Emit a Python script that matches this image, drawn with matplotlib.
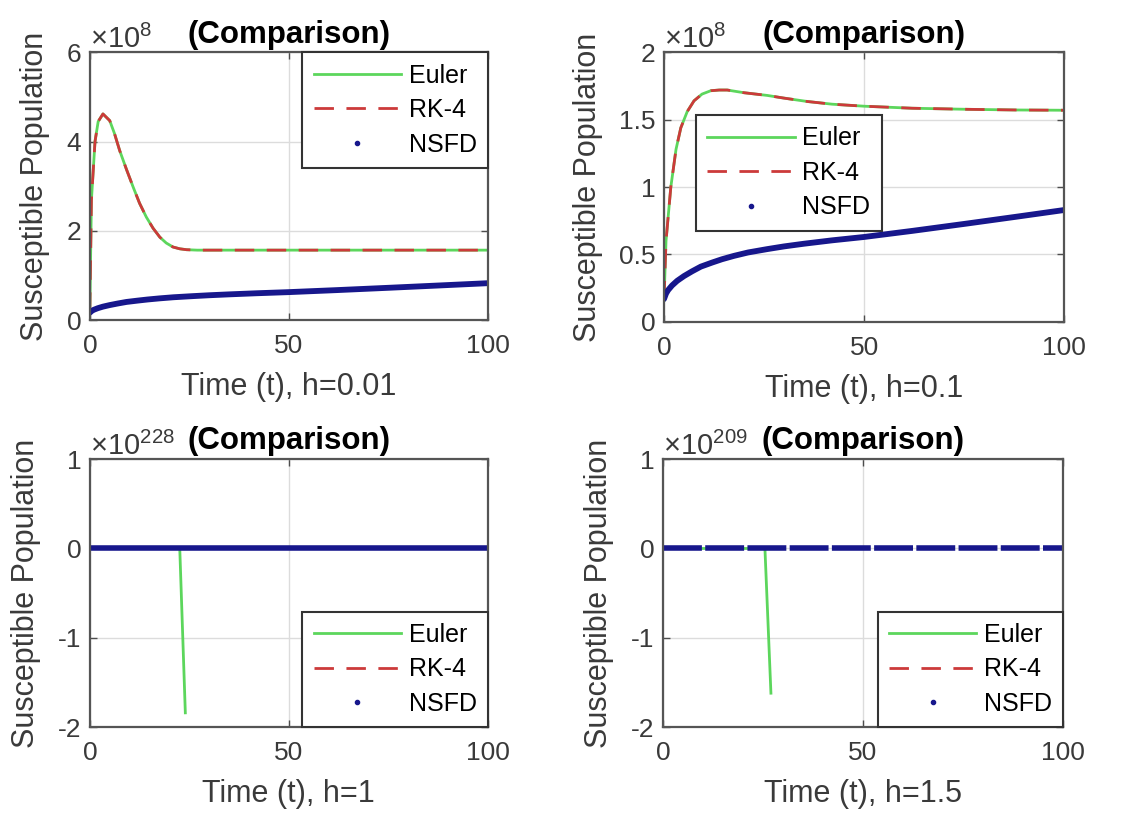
import matplotlib
matplotlib.use('Agg')
import matplotlib.pyplot as plt
from matplotlib import ticker
from matplotlib.lines import Line2D

plt.rcParams['font.family'] = ['Liberation Sans', 'DejaVu Sans']
plt.rcParams['axes.unicode_minus'] = False
plt.rcParams['mathtext.fontset'] = 'custom'
plt.rcParams['mathtext.rm'] = 'Liberation Sans'

# h = 0.01 (Euler and RK-4 overlap)
t_h001 = [0, 0.4, 1.3, 2.1, 3.3, 5, 6.2, 7.5, 9.2, 10.9, 12.5, 14.2, 15.9, 17.6,
          19.2, 20.9, 22.6, 24.3, 27, 30, 50, 75, 100]
s_h001 = [0.19e8, 2.69e8, 4.0e8, 4.45e8, 4.62e8, 4.47e8, 4.18e8, 3.80e8, 3.38e8,
          2.98e8, 2.62e8, 2.31e8, 2.06e8, 1.86e8, 1.73e8, 1.64e8, 1.60e8, 1.58e8,
          1.57e8, 1.57e8, 1.57e8, 1.57e8, 1.57e8]

# h = 0.1 (Euler and RK-4 overlap)
t_h01 = [0, 0.5, 1.7, 3, 4.2, 5.8, 7.5, 9.5, 11.7, 13.8, 15.8, 20, 25.8, 30, 35.8,
         42, 50, 62, 75.8, 88, 100]
s_h01 = [0.16e8, 0.60e8, 1.0e8, 1.28e8, 1.44e8, 1.56e8, 1.64e8, 1.69e8, 1.715e8,
         1.72e8, 1.72e8, 1.70e8, 1.68e8, 1.66e8, 1.635e8, 1.615e8, 1.60e8, 1.585e8,
         1.577e8, 1.572e8, 1.57e8]

# NSFD
t_nsfd = [0, 0.5, 1, 2, 3.3, 5, 7, 9.2, 12, 14.5, 17.5, 21, 25.8, 30, 35, 42,
          50, 62, 75.8, 88, 100]
s_nsfd = [0.17e8, 0.21e8, 0.235e8, 0.27e8, 0.305e8, 0.34e8, 0.375e8, 0.41e8,
          0.44e8, 0.465e8, 0.49e8, 0.515e8, 0.54e8, 0.56e8, 0.58e8, 0.605e8,
          0.63e8, 0.675e8, 0.73e8, 0.78e8, 0.83e8]

# Euler blow-up for h = 1 and h = 1.5
t_euler_h1 = [0, 22.6, 24]
s_euler_h1 = [0.2e8, 1.6e8, -1.84e228]
t_euler_h15 = [0, 25.5, 27]
s_euler_h15 = [0.2e8, 1.6e8, -1.62e209]

euler_c = '#5cd65c'
rk4_c = '#cc3a3a'
nsfd_c = '#17178c'
gray = '#4d4d4d'
dash = (0, (7, 4.5))


class MatlabFmt(ticker.ScalarFormatter):
    def _set_format(self):
        self.format = '%g'


def style(ax, xlabel, ylim, yticks):
    ax.set_xlim(0, 100)
    ax.set_ylim(*ylim)
    ax.set_xticks([0, 50, 100])
    ax.set_yticks(yticks)
    fmt = MatlabFmt(useMathText=True)
    ax.yaxis.set_major_formatter(fmt)
    ax.xaxis.set_major_formatter(ticker.FormatStrFormatter('%g'))
    ax.yaxis.get_offset_text().set_fontsize(21)
    ax.yaxis.get_offset_text().set_color('#666666')
    ax.tick_params(direction='in', length=5, width=1, colors=gray,
                   labelcolor='#3a3a3a', labelsize=19, top=True, right=True)
    ax.tick_params(axis='x', pad=10)
    ax.tick_params(axis='y', pad=6)
    for sp in ax.spines.values():
        sp.set_color('#555555')
        sp.set_linewidth(1.6)
    ax.grid(True, color='#dcdcdc', linewidth=1)
    ax.set_axisbelow(True)
    ax.set_title('(Comparison)', fontsize=22.5, fontweight='bold', pad=7)
    ax.set_xlabel(xlabel, fontsize=22, color='#3a3a3a', labelpad=10)
    ax.set_ylabel('Susceptible Population', fontsize=22, color='#3a3a3a', labelpad=12)


handles = [Line2D([], [], color=euler_c, lw=2),
           Line2D([], [], color=rk4_c, lw=2, linestyle=dash),
           Line2D([], [], color=nsfd_c, linestyle='none', marker='.', markersize=6)]
labels = ['Euler', 'RK-4', 'NSFD']


def add_legend(ax, **kw):
    leg = ax.legend(handles, labels, fontsize=18, handlelength=3.5, labelspacing=0.42,
                    fancybox=False, framealpha=1, edgecolor='#333333',
                    borderaxespad=0, handletextpad=0.3, borderpad=0.45, **kw)
    leg.get_frame().set_linewidth(1.5)


fig = plt.figure(figsize=(11.37, 8.17), dpi=100)

ax1 = fig.add_axes([0.079, 0.608, 0.350, 0.328])
ax2 = fig.add_axes([0.584, 0.606, 0.352, 0.330])
ax3 = fig.add_axes([0.079, 0.110, 0.350, 0.328])
ax4 = fig.add_axes([0.583, 0.110, 0.352, 0.328])

# top left, h=0.01
ax1.plot(t_h001, s_h001, color=euler_c, lw=2)
ax1.plot(t_h001, s_h001, color=rk4_c, lw=2, linestyle=dash)
ax1.plot(t_nsfd, s_nsfd, color=nsfd_c, lw=4.2, solid_capstyle='round')
style(ax1, 'Time (t), h=0.01', (0, 6e8), [0, 2e8, 4e8, 6e8])
add_legend(ax1, loc='upper right')

# top right, h=0.1
ax2.plot(t_h01, s_h01, color=euler_c, lw=2)
ax2.plot(t_h01, s_h01, color=rk4_c, lw=2, linestyle=dash)
ax2.plot(t_nsfd, s_nsfd, color=nsfd_c, lw=4.2, solid_capstyle='round')
style(ax2, 'Time (t), h=0.1', (0, 2e8), [0, 0.5e8, 1e8, 1.5e8, 2e8])
add_legend(ax2, loc='upper left', bbox_to_anchor=(0.08, 0.767))

# bottom left, h=1
ax3.plot(t_euler_h1, s_euler_h1, color=euler_c, lw=2)
ax3.plot(t_h01, s_h01, color=rk4_c, lw=2, linestyle=dash)
ax3.plot(t_nsfd, s_nsfd, color=nsfd_c, lw=4)
style(ax3, 'Time (t), h=1', (-2e228, 1e228), [-2e228, -1e228, 0, 1e228])
add_legend(ax3, loc='lower right')

# bottom right, h=1.5
ax4.plot(t_euler_h15, s_euler_h15, color=euler_c, lw=2)
ax4.plot(t_nsfd, s_nsfd, color=nsfd_c, lw=4, linestyle=(0, (7, 0.6)))
style(ax4, 'Time (t), h=1.5', (-2e209, 1e209), [-2e209, -1e209, 0, 1e209])
add_legend(ax4, loc='lower right')

fig.savefig('out.png', dpi=100)
